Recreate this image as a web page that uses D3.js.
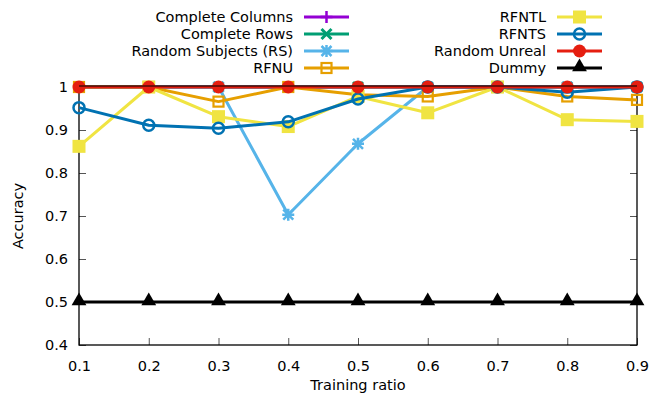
<!DOCTYPE html>
<html>
<head>
<meta charset="utf-8">
<script src="https://cdn.jsdelivr.net/npm/d3@7"></script>
<style>
  body { margin: 0; background: #fff; }
  text { font-family: "DejaVu Sans", sans-serif; fill: #000; }
</style>
</head>
<body>
<script>
var svgWidth = 664;
var svgHeight = 399;

// data
var ratios = [0.1, 0.2, 0.3, 0.4, 0.5, 0.6, 0.7, 0.8, 0.9];
var completeColumns = [1, 1, 1, 1, 1, 1, 1, 1, 1];
var completeRows = [1, 1, 1, 1, 1, 1, 1, 1, 1];
var randomSubjects = [1, 1, 1, 0.703, 0.868, 1, 1, 1, 1];
var rfnu = [1, 1, 0.966, 1, 0.982, 0.978, 1, 0.978, 0.970];
var rfntl = [0.862, 1, 0.931, 0.908, 0.978, 0.940, 1, 0.924, 0.920];
var rfnts = [0.952, 0.911, 0.904, 0.919, 0.972, 1, 1, 0.988, 1];
var randomUnreal = [1, 1, 1, 1, 1, 1, 1, 1, 1];
var dummy = [0.5, 0.5, 0.5, 0.5, 0.5, 0.5, 0.5, 0.5, 0.5];
var yTicks = [0.4, 0.5, 0.6, 0.7, 0.8, 0.9, 1];

var series = [
    { name: "Complete Columns", values: completeColumns, color: "#9400d3", marker: "plus" },
    { name: "Complete Rows", values: completeRows, color: "#009e73", marker: "cross" },
    { name: "Random Subjects (RS)", values: randomSubjects, color: "#56b4e9", marker: "star" },
    { name: "RFNU", values: rfnu, color: "#e69f00", marker: "openSquare" },
    { name: "RFNTL", values: rfntl, color: "#f0e442", marker: "square" },
    { name: "RFNTS", values: rfnts, color: "#0072b2", marker: "openCircle" },
    { name: "Random Unreal", values: randomUnreal, color: "#e51e10", marker: "circle" },
    { name: "Dummy", values: dummy, color: "#000000", marker: "triangle" }
];

var svg = d3.select("body").append("svg").attr("width", svgWidth).attr("height", svgHeight);

var plotLeft = 79, plotRight = 637, plotTop = 87, plotBottom = 345;

var x = d3.scaleLinear().domain([0.1, 0.9]).range([plotLeft, plotRight]);
var y = d3.scaleLinear().domain([0.4, 1]).range([plotBottom, plotTop]);

// axes with inward ticks
var gx = svg.append("g").attr("transform", "translate(0," + plotBottom + ")")
    .call(d3.axisBottom(x).tickValues(ratios).tickSize(-7).tickPadding(16).tickFormat(d3.format(".1f")));
var gy = svg.append("g").attr("transform", "translate(" + plotLeft + ",0)")
    .call(d3.axisLeft(y).tickValues(yTicks).tickSize(-7).tickPadding(11).tickFormat(function(d) { return d === 1 ? "1" : d3.format(".1f")(d); }));
var gr = svg.append("g").attr("transform", "translate(" + plotRight + ",0)")
    .call(d3.axisRight(y).tickValues(yTicks).tickSize(-7).tickFormat(""));

[gx, gy, gr].forEach(function(g) {
    g.select(".domain").remove();
    g.selectAll(".tick line").attr("stroke", "#555").attr("stroke-width", 1);
    g.selectAll(".tick text").style("font-size", "14.5px").style("font-family", "DejaVu Sans");
});

// frame
svg.append("rect")
    .attr("x", plotLeft).attr("y", plotTop)
    .attr("width", plotRight - plotLeft).attr("height", plotBottom - plotTop)
    .attr("fill", "none").attr("stroke", "#000").attr("stroke-width", 1.3);

// axis titles
svg.append("text")
    .attr("x", (plotLeft + plotRight) / 2).attr("y", 390)
    .attr("text-anchor", "middle").style("font-size", "14.5px")
    .text("Training ratio");
svg.append("text")
    .attr("transform", "translate(23," + ((plotTop + plotBottom) / 2) + ") rotate(-90)")
    .attr("text-anchor", "middle").style("font-size", "14.5px")
    .text("Accuracy");

function drawMarker(g, type, cx, cy, color) {
    if (type === "plus") {
        g.append("path").attr("d", "M" + (cx - 6) + "," + cy + "h12M" + cx + "," + (cy - 6) + "v12")
            .attr("stroke", color).attr("stroke-width", 2.5).attr("fill", "none");
    } else if (type === "cross") {
        g.append("path").attr("d", "M" + (cx - 5) + "," + (cy - 5) + "l10,10M" + (cx - 5) + "," + (cy + 5) + "l10,-10")
            .attr("stroke", color).attr("stroke-width", 3).attr("fill", "none");
    } else if (type === "star") {
        g.append("path").attr("d", "M" + (cx - 6) + "," + cy + "h12M" + cx + "," + (cy - 6) + "v12M" + (cx - 5) + "," + (cy - 5) + "l10,10M" + (cx - 5) + "," + (cy + 5) + "l10,-10")
            .attr("stroke", color).attr("stroke-width", 2.5).attr("fill", "none");
    } else if (type === "openSquare") {
        g.append("rect").attr("x", cx - 5).attr("y", cy - 5).attr("width", 10).attr("height", 10)
            .attr("fill", "none").attr("stroke", color).attr("stroke-width", 2.2);
    } else if (type === "square") {
        g.append("rect").attr("x", cx - 6.5).attr("y", cy - 6.5).attr("width", 13).attr("height", 13)
            .attr("fill", color);
    } else if (type === "openCircle") {
        g.append("circle").attr("cx", cx).attr("cy", cy).attr("r", 5.5)
            .attr("fill", "none").attr("stroke", color).attr("stroke-width", 2.5);
    } else if (type === "circle") {
        g.append("circle").attr("cx", cx).attr("cy", cy).attr("r", 6.5).attr("fill", color);
    } else if (type === "triangle") {
        g.append("path").attr("d", d3.symbol().type(d3.symbolTriangle).size(95)()).attr("transform", "translate(" + cx + "," + (cy - 1) + ")")
            .attr("fill", color);
    }
}

var line = d3.line()
    .x(function(d, i) { return x(ratios[i]); })
    .y(function(d) { return y(d); });

// series, drawn in order so later ones sit on top
series.forEach(function(s) {
    var g = svg.append("g");
    g.append("path")
        .attr("d", line(s.values))
        .attr("fill", "none")
        .attr("stroke", s.color)
        .attr("stroke-width", 3)
        .attr("stroke-linejoin", "round");
    s.values.forEach(function(v, i) {
        drawMarker(g, s.marker, x(ratios[i]), y(v), s.color);
    });
});

// top frame line stays visible above the lines at 1
svg.append("line").attr("x1", plotLeft).attr("x2", plotRight).attr("y1", plotTop - 1).attr("y2", plotTop - 1)
    .attr("stroke", "#000").attr("stroke-width", 1.2);

// legend in two columns
var legend = svg.append("g");
series.forEach(function(s, i) {
    var col = Math.floor(i / 4), row = i % 4;
    var textEnd = col === 0 ? 293 : 546;
    var lx = textEnd + 11;
    var ly = 17 + row * 17;
    legend.append("text")
        .attr("x", textEnd).attr("y", ly + 5)
        .attr("text-anchor", "end").style("font-size", "14.5px")
        .text(s.name);
    legend.append("line")
        .attr("x1", lx).attr("x2", lx + 45).attr("y1", ly).attr("y2", ly)
        .attr("stroke", s.color).attr("stroke-width", 3);
    drawMarker(legend, s.marker, lx + 22.5, ly, s.color);
});
</script>
</body>
</html>
